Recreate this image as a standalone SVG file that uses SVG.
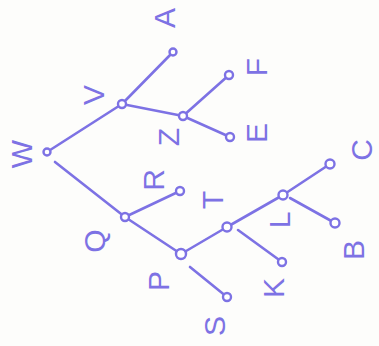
<svg xmlns="http://www.w3.org/2000/svg" width="379" height="346" viewBox="0 0 379 346">
<style>
.e{stroke:#7d72e4;stroke-width:2.6;stroke-linecap:round;fill:none}
.n circle{fill:#fff;stroke:#7d72e4;stroke-width:2.4}
.n text{fill:#7d72e4;font-family:"Liberation Sans",sans-serif;font-size:30px;text-anchor:middle;dominant-baseline:central}
</style>
<rect width="379" height="346" fill="#fdfdfb"/>
<g id="edges">
<line class="e" x1="47" y1="152" x2="122" y2="104"/>
<line class="e" x1="122" y1="104" x2="173" y2="52"/>
<line class="e" x1="122" y1="104" x2="183" y2="116"/>
<line class="e" x1="183" y1="116" x2="229" y2="75"/>
<line class="e" x1="183" y1="116" x2="230" y2="137"/>
<line class="e" x1="55" y1="162" x2="125" y2="217"/>
<line class="e" x1="125" y1="217" x2="180" y2="191"/>
<line class="e" x1="125" y1="217" x2="181" y2="254"/>
<line class="e" x1="181" y1="254" x2="227" y2="227"/>
<line class="e" x1="190" y1="267" x2="227" y2="297"/>
<line class="e" x1="227" y1="227" x2="283" y2="195"/>
<line class="e" x1="238" y1="230" x2="282" y2="262"/>
<line class="e" x1="283" y1="195" x2="330" y2="164"/>
<line class="e" x1="290" y1="198" x2="335" y2="223"/>
</g>
<g id="W" class="n"><circle cx="47" cy="152" r="3.5"/><text transform="translate(21,154) rotate(-90)">W</text></g>
<g id="V" class="n"><circle cx="122" cy="104" r="4"/><text transform="translate(93,95) rotate(-90)">V</text></g>
<g id="A" class="n"><circle cx="173" cy="52" r="3.5"/><text transform="translate(164,18) rotate(-90)">A</text></g>
<g id="Z" class="n"><circle cx="183" cy="116" r="4"/><text transform="translate(168,137) rotate(-90)">Z</text></g>
<g id="F" class="n"><circle cx="229" cy="75" r="4"/><text transform="translate(256,67) rotate(-90)">F</text></g>
<g id="E" class="n"><circle cx="230" cy="137" r="4"/><text transform="translate(256,133) rotate(-90)">E</text></g>
<g id="Q" class="n"><circle cx="125" cy="217" r="4"/><text transform="translate(94,241) rotate(-90)">Q</text></g>
<g id="R" class="n"><circle cx="180" cy="191" r="4"/><text transform="translate(153,180) rotate(-90)">R</text></g>
<g id="P" class="n"><circle cx="181" cy="254" r="5"/><text transform="translate(158,281) rotate(-90)">P</text></g>
<g id="T" class="n"><circle cx="227" cy="227" r="4.5"/><text transform="translate(212,200) rotate(-90)">T</text></g>
<g id="S" class="n"><circle cx="227" cy="297" r="4"/><text transform="translate(214,326) rotate(-90)">S</text></g>
<g id="K" class="n"><circle cx="282" cy="262" r="4"/><text transform="translate(273,288) rotate(-90)">K</text></g>
<g id="L" class="n"><circle cx="283" cy="195" r="4.5"/><text transform="translate(279,220) rotate(-90)">L</text></g>
<g id="C" class="n"><circle cx="330" cy="164" r="4.5"/><text transform="translate(361,150) rotate(-90)">C</text></g>
<g id="B" class="n"><circle cx="335" cy="223" r="4.5"/><text transform="translate(353,250) rotate(-90)">B</text></g>
</svg>
